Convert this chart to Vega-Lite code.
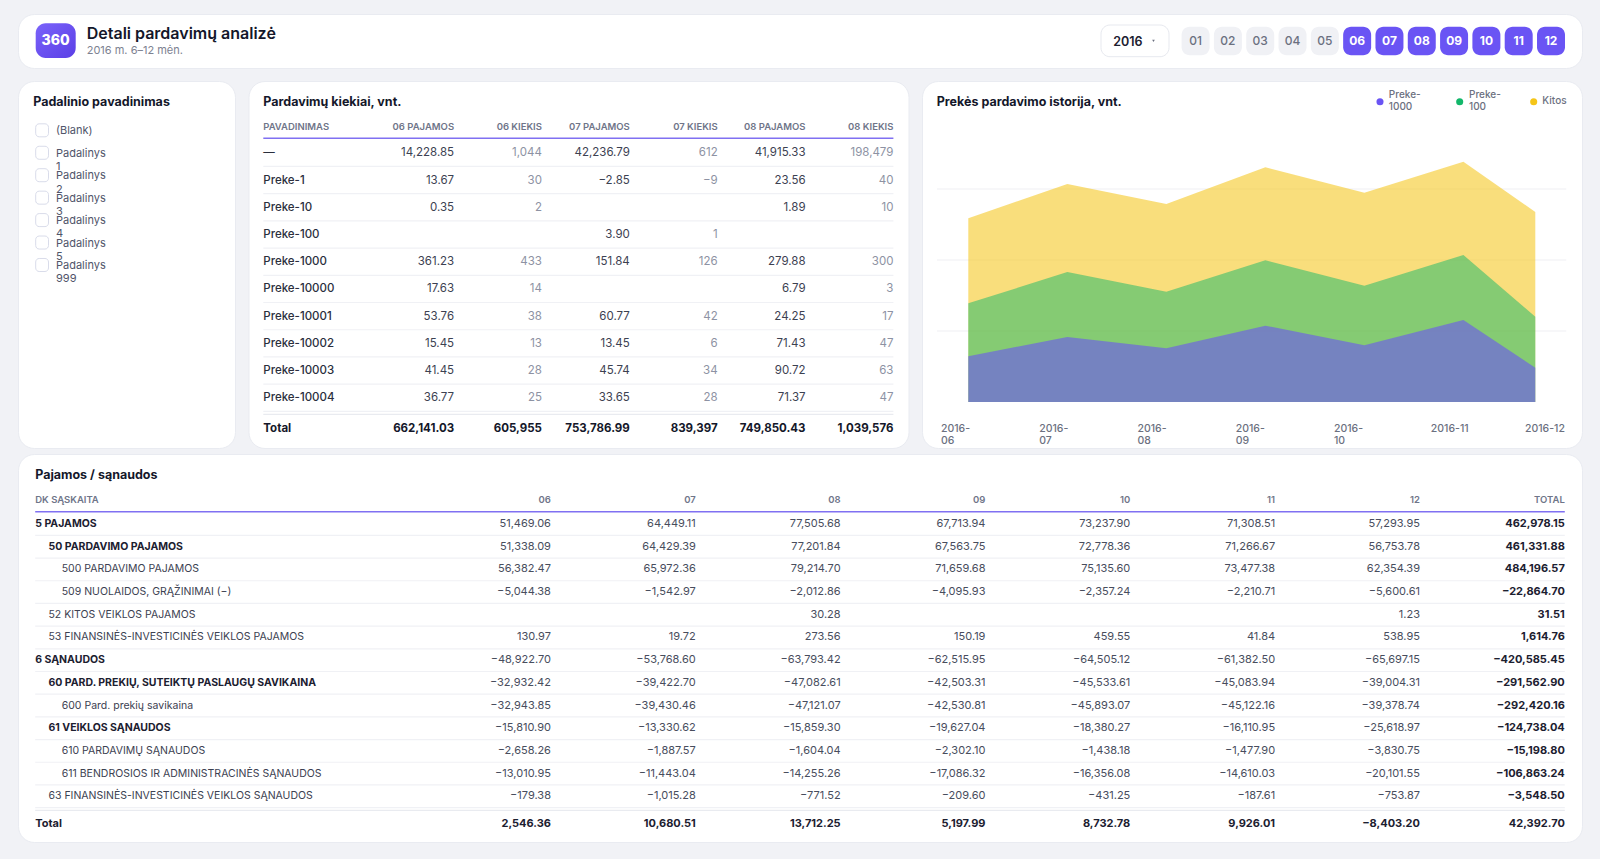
{
  "$schema": "https://vega.github.io/schema/vega-lite/v6.json",
  "description": "Detali pardavimu analize dashboard: filter list, sales table, area chart and income/expense table.",
  "background": "#f1f2f6",
  "padding": {"left": 17, "top": 13, "right": 17.5, "bottom": 18.5},
  "config": {
    "font": "Inter",
    "view": {"fill": "#ffffff", "stroke": "#e9ebf1", "strokeWidth": 1, "cornerRadius": 16}
  },
  "datasets": {
    "months": [
      {"month": "01", "active": false}, {"month": "02", "active": false}, {"month": "03", "active": false},
      {"month": "04", "active": false}, {"month": "05", "active": false}, {"month": "06", "active": true},
      {"month": "07", "active": true}, {"month": "08", "active": true}, {"month": "09", "active": true},
      {"month": "10", "active": true}, {"month": "11", "active": true}, {"month": "12", "active": true}
    ],
    "departments": [
      {"name": ["(Blank)"]}, {"name": ["Padalinys", "1"]}, {"name": ["Padalinys", "2"]}, {"name": ["Padalinys", "3"]},
      {"name": ["Padalinys", "4"]}, {"name": ["Padalinys", "5"]}, {"name": ["Padalinys", "999"]}
    ],
    "salesCols": [
      {"col": "06 PAJAMOS"}, {"col": "06 KIEKIS"}, {"col": "07 PAJAMOS"}, {"col": "07 KIEKIS"}, {"col": "08 PAJAMOS"}, {"col": "08 KIEKIS"}
    ],
    "salesRows": [
      {"row": "—"}, {"row": "Preke-1"}, {"row": "Preke-10"}, {"row": "Preke-100"}, {"row": "Preke-1000"},
      {"row": "Preke-10000"}, {"row": "Preke-10001"}, {"row": "Preke-10002"}, {"row": "Preke-10003"}, {"row": "Preke-10004"}
    ],
    "sales": [
      {"row": "—", "col": "06 PAJAMOS", "measure": "pajamos", "value": 14228.85},
      {"row": "—", "col": "06 KIEKIS", "measure": "kiekis", "value": 1044},
      {"row": "—", "col": "07 PAJAMOS", "measure": "pajamos", "value": 42236.79},
      {"row": "—", "col": "07 KIEKIS", "measure": "kiekis", "value": 612},
      {"row": "—", "col": "08 PAJAMOS", "measure": "pajamos", "value": 41915.33},
      {"row": "—", "col": "08 KIEKIS", "measure": "kiekis", "value": 198479},
      {"row": "Preke-1", "col": "06 PAJAMOS", "measure": "pajamos", "value": 13.67},
      {"row": "Preke-1", "col": "06 KIEKIS", "measure": "kiekis", "value": 30},
      {"row": "Preke-1", "col": "07 PAJAMOS", "measure": "pajamos", "value": -2.85},
      {"row": "Preke-1", "col": "07 KIEKIS", "measure": "kiekis", "value": -9},
      {"row": "Preke-1", "col": "08 PAJAMOS", "measure": "pajamos", "value": 23.56},
      {"row": "Preke-1", "col": "08 KIEKIS", "measure": "kiekis", "value": 40},
      {"row": "Preke-10", "col": "06 PAJAMOS", "measure": "pajamos", "value": 0.35},
      {"row": "Preke-10", "col": "06 KIEKIS", "measure": "kiekis", "value": 2},
      {"row": "Preke-10", "col": "08 PAJAMOS", "measure": "pajamos", "value": 1.89},
      {"row": "Preke-10", "col": "08 KIEKIS", "measure": "kiekis", "value": 10},
      {"row": "Preke-100", "col": "07 PAJAMOS", "measure": "pajamos", "value": 3.9},
      {"row": "Preke-100", "col": "07 KIEKIS", "measure": "kiekis", "value": 1},
      {"row": "Preke-1000", "col": "06 PAJAMOS", "measure": "pajamos", "value": 361.23},
      {"row": "Preke-1000", "col": "06 KIEKIS", "measure": "kiekis", "value": 433},
      {"row": "Preke-1000", "col": "07 PAJAMOS", "measure": "pajamos", "value": 151.84},
      {"row": "Preke-1000", "col": "07 KIEKIS", "measure": "kiekis", "value": 126},
      {"row": "Preke-1000", "col": "08 PAJAMOS", "measure": "pajamos", "value": 279.88},
      {"row": "Preke-1000", "col": "08 KIEKIS", "measure": "kiekis", "value": 300},
      {"row": "Preke-10000", "col": "06 PAJAMOS", "measure": "pajamos", "value": 17.63},
      {"row": "Preke-10000", "col": "06 KIEKIS", "measure": "kiekis", "value": 14},
      {"row": "Preke-10000", "col": "08 PAJAMOS", "measure": "pajamos", "value": 6.79},
      {"row": "Preke-10000", "col": "08 KIEKIS", "measure": "kiekis", "value": 3},
      {"row": "Preke-10001", "col": "06 PAJAMOS", "measure": "pajamos", "value": 53.76},
      {"row": "Preke-10001", "col": "06 KIEKIS", "measure": "kiekis", "value": 38},
      {"row": "Preke-10001", "col": "07 PAJAMOS", "measure": "pajamos", "value": 60.77},
      {"row": "Preke-10001", "col": "07 KIEKIS", "measure": "kiekis", "value": 42},
      {"row": "Preke-10001", "col": "08 PAJAMOS", "measure": "pajamos", "value": 24.25},
      {"row": "Preke-10001", "col": "08 KIEKIS", "measure": "kiekis", "value": 17},
      {"row": "Preke-10002", "col": "06 PAJAMOS", "measure": "pajamos", "value": 15.45},
      {"row": "Preke-10002", "col": "06 KIEKIS", "measure": "kiekis", "value": 13},
      {"row": "Preke-10002", "col": "07 PAJAMOS", "measure": "pajamos", "value": 13.45},
      {"row": "Preke-10002", "col": "07 KIEKIS", "measure": "kiekis", "value": 6},
      {"row": "Preke-10002", "col": "08 PAJAMOS", "measure": "pajamos", "value": 71.43},
      {"row": "Preke-10002", "col": "08 KIEKIS", "measure": "kiekis", "value": 47},
      {"row": "Preke-10003", "col": "06 PAJAMOS", "measure": "pajamos", "value": 41.45},
      {"row": "Preke-10003", "col": "06 KIEKIS", "measure": "kiekis", "value": 28},
      {"row": "Preke-10003", "col": "07 PAJAMOS", "measure": "pajamos", "value": 45.74},
      {"row": "Preke-10003", "col": "07 KIEKIS", "measure": "kiekis", "value": 34},
      {"row": "Preke-10003", "col": "08 PAJAMOS", "measure": "pajamos", "value": 90.72},
      {"row": "Preke-10003", "col": "08 KIEKIS", "measure": "kiekis", "value": 63},
      {"row": "Preke-10004", "col": "06 PAJAMOS", "measure": "pajamos", "value": 36.77},
      {"row": "Preke-10004", "col": "06 KIEKIS", "measure": "kiekis", "value": 25},
      {"row": "Preke-10004", "col": "07 PAJAMOS", "measure": "pajamos", "value": 33.65},
      {"row": "Preke-10004", "col": "07 KIEKIS", "measure": "kiekis", "value": 28},
      {"row": "Preke-10004", "col": "08 PAJAMOS", "measure": "pajamos", "value": 71.37},
      {"row": "Preke-10004", "col": "08 KIEKIS", "measure": "kiekis", "value": 47},
      {"row": "Total", "col": "06 PAJAMOS", "measure": "pajamos", "value": 662141.03},
      {"row": "Total", "col": "06 KIEKIS", "measure": "kiekis", "value": 605955},
      {"row": "Total", "col": "07 PAJAMOS", "measure": "pajamos", "value": 753786.99},
      {"row": "Total", "col": "07 KIEKIS", "measure": "kiekis", "value": 839397},
      {"row": "Total", "col": "08 PAJAMOS", "measure": "pajamos", "value": 749850.43},
      {"row": "Total", "col": "08 KIEKIS", "measure": "kiekis", "value": 1039576}
    ],
    "history": [
      {"month": 6, "label": ["2016-", "06"], "series": "Kitos", "units": 258.7},
      {"month": 7, "label": ["2016-", "07"], "series": "Kitos", "units": 307},
      {"month": 8, "label": ["2016-", "08"], "series": "Kitos", "units": 279},
      {"month": 9, "label": ["2016-", "09"], "series": "Kitos", "units": 330.6},
      {"month": 10, "label": ["2016-", "10"], "series": "Kitos", "units": 294.8},
      {"month": 11, "label": ["2016-11"], "series": "Kitos", "units": 338.5},
      {"month": 12, "label": ["2016-12"], "series": "Kitos", "units": 267.6},
      {"month": 6, "series": "Preke-100", "units": 139},
      {"month": 7, "series": "Preke-100", "units": 183},
      {"month": 8, "series": "Preke-100", "units": 155.4},
      {"month": 9, "series": "Preke-100", "units": 199.6},
      {"month": 10, "series": "Preke-100", "units": 163.8},
      {"month": 11, "series": "Preke-100", "units": 207},
      {"month": 12, "series": "Preke-100", "units": 120},
      {"month": 6, "series": "Preke-1000", "units": 64.4},
      {"month": 7, "series": "Preke-1000", "units": 91.5},
      {"month": 8, "series": "Preke-1000", "units": 75.6},
      {"month": 9, "series": "Preke-1000", "units": 107.5},
      {"month": 10, "series": "Preke-1000", "units": 79.9},
      {"month": 11, "series": "Preke-1000", "units": 115.5},
      {"month": 12, "series": "Preke-1000", "units": 48.3}
    ],
    "legendItems": [
      {"series": "Preke-1000", "order": 1, "lines": 2, "label": ["Preke-", "1000"]},
      {"series": "Preke-100", "order": 2, "lines": 2, "label": ["Preke-", "100"]},
      {"series": "Kitos", "order": 3, "lines": 1, "label": ["Kitos"]}
    ],
    "accounts": [
      {"account": "5 PAJAMOS", "level": 0, "strong": true},
      {"account": "50 PARDAVIMO PAJAMOS", "level": 1, "strong": true},
      {"account": "500 PARDAVIMO PAJAMOS", "level": 2, "strong": false},
      {"account": "509 NUOLAIDOS, GRĄŽINIMAI (−)", "level": 2, "strong": false},
      {"account": "52 KITOS VEIKLOS PAJAMOS", "level": 1, "strong": false},
      {"account": "53 FINANSINĖS-INVESTICINĖS VEIKLOS PAJAMOS", "level": 1, "strong": false},
      {"account": "6 SĄNAUDOS", "level": 0, "strong": true},
      {"account": "60 PARD. PREKIŲ, SUTEIKTŲ PASLAUGŲ SAVIKAINA", "level": 1, "strong": true},
      {"account": "600 Pard. prekių savikaina", "level": 2, "strong": false},
      {"account": "61 VEIKLOS SĄNAUDOS", "level": 1, "strong": true},
      {"account": "610 PARDAVIMŲ SĄNAUDOS", "level": 2, "strong": false},
      {"account": "611 BENDROSIOS IR ADMINISTRACINĖS SĄNAUDOS", "level": 2, "strong": false},
      {"account": "63 FINANSINĖS-INVESTICINĖS VEIKLOS SĄNAUDOS", "level": 1, "strong": false}
    ],
    "ledgerCols": [
      {"month": "06"}, {"month": "07"}, {"month": "08"}, {"month": "09"}, {"month": "10"}, {"month": "11"}, {"month": "12"}, {"month": "TOTAL"}
    ],
    "ledger": [
      {"account": "5 PAJAMOS", "month": "06", "value": 51469.06},
      {"account": "5 PAJAMOS", "month": "07", "value": 64449.11},
      {"account": "5 PAJAMOS", "month": "08", "value": 77505.68},
      {"account": "5 PAJAMOS", "month": "09", "value": 67713.94},
      {"account": "5 PAJAMOS", "month": "10", "value": 73237.9},
      {"account": "5 PAJAMOS", "month": "11", "value": 71308.51},
      {"account": "5 PAJAMOS", "month": "12", "value": 57293.95},
      {"account": "5 PAJAMOS", "month": "TOTAL", "value": 462978.15},
      {"account": "50 PARDAVIMO PAJAMOS", "month": "06", "value": 51338.09},
      {"account": "50 PARDAVIMO PAJAMOS", "month": "07", "value": 64429.39},
      {"account": "50 PARDAVIMO PAJAMOS", "month": "08", "value": 77201.84},
      {"account": "50 PARDAVIMO PAJAMOS", "month": "09", "value": 67563.75},
      {"account": "50 PARDAVIMO PAJAMOS", "month": "10", "value": 72778.36},
      {"account": "50 PARDAVIMO PAJAMOS", "month": "11", "value": 71266.67},
      {"account": "50 PARDAVIMO PAJAMOS", "month": "12", "value": 56753.78},
      {"account": "50 PARDAVIMO PAJAMOS", "month": "TOTAL", "value": 461331.88},
      {"account": "500 PARDAVIMO PAJAMOS", "month": "06", "value": 56382.47},
      {"account": "500 PARDAVIMO PAJAMOS", "month": "07", "value": 65972.36},
      {"account": "500 PARDAVIMO PAJAMOS", "month": "08", "value": 79214.7},
      {"account": "500 PARDAVIMO PAJAMOS", "month": "09", "value": 71659.68},
      {"account": "500 PARDAVIMO PAJAMOS", "month": "10", "value": 75135.6},
      {"account": "500 PARDAVIMO PAJAMOS", "month": "11", "value": 73477.38},
      {"account": "500 PARDAVIMO PAJAMOS", "month": "12", "value": 62354.39},
      {"account": "500 PARDAVIMO PAJAMOS", "month": "TOTAL", "value": 484196.57},
      {"account": "509 NUOLAIDOS, GRĄŽINIMAI (−)", "month": "06", "value": -5044.38},
      {"account": "509 NUOLAIDOS, GRĄŽINIMAI (−)", "month": "07", "value": -1542.97},
      {"account": "509 NUOLAIDOS, GRĄŽINIMAI (−)", "month": "08", "value": -2012.86},
      {"account": "509 NUOLAIDOS, GRĄŽINIMAI (−)", "month": "09", "value": -4095.93},
      {"account": "509 NUOLAIDOS, GRĄŽINIMAI (−)", "month": "10", "value": -2357.24},
      {"account": "509 NUOLAIDOS, GRĄŽINIMAI (−)", "month": "11", "value": -2210.71},
      {"account": "509 NUOLAIDOS, GRĄŽINIMAI (−)", "month": "12", "value": -5600.61},
      {"account": "509 NUOLAIDOS, GRĄŽINIMAI (−)", "month": "TOTAL", "value": -22864.7},
      {"account": "52 KITOS VEIKLOS PAJAMOS", "month": "08", "value": 30.28},
      {"account": "52 KITOS VEIKLOS PAJAMOS", "month": "12", "value": 1.23},
      {"account": "52 KITOS VEIKLOS PAJAMOS", "month": "TOTAL", "value": 31.51},
      {"account": "53 FINANSINĖS-INVESTICINĖS VEIKLOS PAJAMOS", "month": "06", "value": 130.97},
      {"account": "53 FINANSINĖS-INVESTICINĖS VEIKLOS PAJAMOS", "month": "07", "value": 19.72},
      {"account": "53 FINANSINĖS-INVESTICINĖS VEIKLOS PAJAMOS", "month": "08", "value": 273.56},
      {"account": "53 FINANSINĖS-INVESTICINĖS VEIKLOS PAJAMOS", "month": "09", "value": 150.19},
      {"account": "53 FINANSINĖS-INVESTICINĖS VEIKLOS PAJAMOS", "month": "10", "value": 459.55},
      {"account": "53 FINANSINĖS-INVESTICINĖS VEIKLOS PAJAMOS", "month": "11", "value": 41.84},
      {"account": "53 FINANSINĖS-INVESTICINĖS VEIKLOS PAJAMOS", "month": "12", "value": 538.95},
      {"account": "53 FINANSINĖS-INVESTICINĖS VEIKLOS PAJAMOS", "month": "TOTAL", "value": 1614.76},
      {"account": "6 SĄNAUDOS", "month": "06", "value": -48922.7},
      {"account": "6 SĄNAUDOS", "month": "07", "value": -53768.6},
      {"account": "6 SĄNAUDOS", "month": "08", "value": -63793.42},
      {"account": "6 SĄNAUDOS", "month": "09", "value": -62515.95},
      {"account": "6 SĄNAUDOS", "month": "10", "value": -64505.12},
      {"account": "6 SĄNAUDOS", "month": "11", "value": -61382.5},
      {"account": "6 SĄNAUDOS", "month": "12", "value": -65697.15},
      {"account": "6 SĄNAUDOS", "month": "TOTAL", "value": -420585.45},
      {"account": "60 PARD. PREKIŲ, SUTEIKTŲ PASLAUGŲ SAVIKAINA", "month": "06", "value": -32932.42},
      {"account": "60 PARD. PREKIŲ, SUTEIKTŲ PASLAUGŲ SAVIKAINA", "month": "07", "value": -39422.7},
      {"account": "60 PARD. PREKIŲ, SUTEIKTŲ PASLAUGŲ SAVIKAINA", "month": "08", "value": -47082.61},
      {"account": "60 PARD. PREKIŲ, SUTEIKTŲ PASLAUGŲ SAVIKAINA", "month": "09", "value": -42503.31},
      {"account": "60 PARD. PREKIŲ, SUTEIKTŲ PASLAUGŲ SAVIKAINA", "month": "10", "value": -45533.61},
      {"account": "60 PARD. PREKIŲ, SUTEIKTŲ PASLAUGŲ SAVIKAINA", "month": "11", "value": -45083.94},
      {"account": "60 PARD. PREKIŲ, SUTEIKTŲ PASLAUGŲ SAVIKAINA", "month": "12", "value": -39004.31},
      {"account": "60 PARD. PREKIŲ, SUTEIKTŲ PASLAUGŲ SAVIKAINA", "month": "TOTAL", "value": -291562.9},
      {"account": "600 Pard. prekių savikaina", "month": "06", "value": -32943.85},
      {"account": "600 Pard. prekių savikaina", "month": "07", "value": -39430.46},
      {"account": "600 Pard. prekių savikaina", "month": "08", "value": -47121.07},
      {"account": "600 Pard. prekių savikaina", "month": "09", "value": -42530.81},
      {"account": "600 Pard. prekių savikaina", "month": "10", "value": -45893.07},
      {"account": "600 Pard. prekių savikaina", "month": "11", "value": -45122.16},
      {"account": "600 Pard. prekių savikaina", "month": "12", "value": -39378.74},
      {"account": "600 Pard. prekių savikaina", "month": "TOTAL", "value": -292420.16},
      {"account": "61 VEIKLOS SĄNAUDOS", "month": "06", "value": -15810.9},
      {"account": "61 VEIKLOS SĄNAUDOS", "month": "07", "value": -13330.62},
      {"account": "61 VEIKLOS SĄNAUDOS", "month": "08", "value": -15859.3},
      {"account": "61 VEIKLOS SĄNAUDOS", "month": "09", "value": -19627.04},
      {"account": "61 VEIKLOS SĄNAUDOS", "month": "10", "value": -18380.27},
      {"account": "61 VEIKLOS SĄNAUDOS", "month": "11", "value": -16110.95},
      {"account": "61 VEIKLOS SĄNAUDOS", "month": "12", "value": -25618.97},
      {"account": "61 VEIKLOS SĄNAUDOS", "month": "TOTAL", "value": -124738.04},
      {"account": "610 PARDAVIMŲ SĄNAUDOS", "month": "06", "value": -2658.26},
      {"account": "610 PARDAVIMŲ SĄNAUDOS", "month": "07", "value": -1887.57},
      {"account": "610 PARDAVIMŲ SĄNAUDOS", "month": "08", "value": -1604.04},
      {"account": "610 PARDAVIMŲ SĄNAUDOS", "month": "09", "value": -2302.1},
      {"account": "610 PARDAVIMŲ SĄNAUDOS", "month": "10", "value": -1438.18},
      {"account": "610 PARDAVIMŲ SĄNAUDOS", "month": "11", "value": -1477.9},
      {"account": "610 PARDAVIMŲ SĄNAUDOS", "month": "12", "value": -3830.75},
      {"account": "610 PARDAVIMŲ SĄNAUDOS", "month": "TOTAL", "value": -15198.8},
      {"account": "611 BENDROSIOS IR ADMINISTRACINĖS SĄNAUDOS", "month": "06", "value": -13010.95},
      {"account": "611 BENDROSIOS IR ADMINISTRACINĖS SĄNAUDOS", "month": "07", "value": -11443.04},
      {"account": "611 BENDROSIOS IR ADMINISTRACINĖS SĄNAUDOS", "month": "08", "value": -14255.26},
      {"account": "611 BENDROSIOS IR ADMINISTRACINĖS SĄNAUDOS", "month": "09", "value": -17086.32},
      {"account": "611 BENDROSIOS IR ADMINISTRACINĖS SĄNAUDOS", "month": "10", "value": -16356.08},
      {"account": "611 BENDROSIOS IR ADMINISTRACINĖS SĄNAUDOS", "month": "11", "value": -14610.03},
      {"account": "611 BENDROSIOS IR ADMINISTRACINĖS SĄNAUDOS", "month": "12", "value": -20101.55},
      {"account": "611 BENDROSIOS IR ADMINISTRACINĖS SĄNAUDOS", "month": "TOTAL", "value": -106863.24},
      {"account": "63 FINANSINĖS-INVESTICINĖS VEIKLOS SĄNAUDOS", "month": "06", "value": -179.38},
      {"account": "63 FINANSINĖS-INVESTICINĖS VEIKLOS SĄNAUDOS", "month": "07", "value": -1015.28},
      {"account": "63 FINANSINĖS-INVESTICINĖS VEIKLOS SĄNAUDOS", "month": "08", "value": -771.52},
      {"account": "63 FINANSINĖS-INVESTICINĖS VEIKLOS SĄNAUDOS", "month": "09", "value": -209.6},
      {"account": "63 FINANSINĖS-INVESTICINĖS VEIKLOS SĄNAUDOS", "month": "10", "value": -431.25},
      {"account": "63 FINANSINĖS-INVESTICINĖS VEIKLOS SĄNAUDOS", "month": "11", "value": -187.61},
      {"account": "63 FINANSINĖS-INVESTICINĖS VEIKLOS SĄNAUDOS", "month": "12", "value": -753.87},
      {"account": "63 FINANSINĖS-INVESTICINĖS VEIKLOS SĄNAUDOS", "month": "TOTAL", "value": -3548.5},
      {"account": "Total", "month": "06", "value": 2546.36},
      {"account": "Total", "month": "07", "value": 10680.51},
      {"account": "Total", "month": "08", "value": 13712.25},
      {"account": "Total", "month": "09", "value": 5197.99},
      {"account": "Total", "month": "10", "value": 8732.78},
      {"account": "Total", "month": "11", "value": 9926.01},
      {"account": "Total", "month": "12", "value": -8403.2},
      {"account": "Total", "month": "TOTAL", "value": 42392.7}
    ]
  },
  "spacing": 4,
  "resolve": {"scale": {"color": "independent"}},
  "vconcat": [
    {
      "spacing": 11,
      "resolve": {"scale": {"color": "independent"}},
      "vconcat": [
        {
          "width": 1564,
          "height": 54,
          "resolve": {"scale": {"x": "independent", "y": "independent"}},
          "layer": [
            {
              "data": {"values": [{"logo": "360"}]},
              "mark": {"type": "rect", "cornerRadius": 10, "color": {"gradient": "linear", "x1": 0, "y1": 0, "x2": 1, "y2": 1, "stops": [{"offset": 0, "color": "#7a63fa"}, {"offset": 1, "color": "#5b3fe6"}]}},
              "encoding": {
                "x": {"field": "logo", "type": "nominal", "axis": null, "scale": {"type": "band", "padding": 0, "range": [17.7, 57.7]}},
                "y": {"field": "logo", "type": "nominal", "axis": null, "scale": {"type": "band", "padding": 0, "range": [9.3, 44]}}
              }
            },
            {
              "data": {"values": [{"logo": "360"}]},
              "mark": {"type": "text", "fontSize": 14, "fontWeight": 800, "color": "#ffffff"},
              "encoding": {
                "text": {"field": "logo"},
                "x": {"field": "logo", "type": "nominal", "axis": null, "scale": {"type": "band", "padding": 0, "range": [17.7, 57.7]}},
                "y": {"field": "logo", "type": "nominal", "axis": null, "scale": {"type": "band", "padding": 0, "range": [9.3, 44]}}
              }
            },
            {
              "data": {"values": [{"title": "Detali pardavimų analizė"}]},
              "mark": {"type": "text", "fontSize": 16, "fontWeight": 600, "color": "#14172a", "align": "left"},
              "encoding": {
                "text": {"field": "title"},
                "x": {"field": "title", "type": "nominal", "bandPosition": 0, "axis": null, "scale": {"type": "band", "padding": 0, "range": [68.7, 400]}},
                "y": {"field": "title", "type": "nominal", "axis": null, "scale": {"type": "band", "padding": 0, "range": [10.3, 30.3]}}
              }
            },
            {
              "data": {"values": [{"subtitle": "2016 m. 6–12 mėn."}]},
              "mark": {"type": "text", "fontSize": 11, "color": "#7d8291", "align": "left"},
              "encoding": {
                "text": {"field": "subtitle"},
                "x": {"field": "subtitle", "type": "nominal", "bandPosition": 0, "axis": null, "scale": {"type": "band", "padding": 0, "range": [68.7, 400]}},
                "y": {"field": "subtitle", "type": "nominal", "axis": null, "scale": {"type": "band", "padding": 0, "range": [30, 43.4]}}
              }
            },
            {
              "data": {"values": [{"year": "2016"}]},
              "mark": {"type": "rect", "cornerRadius": 9, "fill": "#ffffff", "stroke": "#e7e9ef", "strokeWidth": 1},
              "encoding": {
                "x": {"field": "year", "type": "nominal", "axis": null, "scale": {"type": "band", "padding": 0, "range": [1083, 1151]}},
                "y": {"field": "year", "type": "nominal", "axis": null, "scale": {"type": "band", "padding": 0, "range": [11, 42.7]}}
              }
            },
            {
              "data": {"values": [{"year": "2016"}]},
              "mark": {"type": "text", "fontSize": 12.5, "fontWeight": 600, "color": "#1c2030", "align": "left"},
              "encoding": {
                "text": {"field": "year"},
                "x": {"field": "year", "type": "nominal", "bandPosition": 0, "axis": null, "scale": {"type": "band", "padding": 0, "range": [1095.3, 1151]}},
                "y": {"field": "year", "type": "nominal", "axis": null, "scale": {"type": "band", "padding": 0, "range": [12, 43.7]}}
              }
            },
            {
              "data": {"values": [{"year": "2016"}]},
              "mark": {"type": "point", "shape": "triangle-down", "size": 7, "filled": true, "color": "#6b7080", "opacity": 1},
              "encoding": {
                "x": {"field": "year", "type": "nominal", "axis": null, "scale": {"type": "band", "padding": 0, "range": [1130, 1141]}},
                "y": {"field": "year", "type": "nominal", "axis": null, "scale": {"type": "band", "padding": 0, "range": [11, 42.7]}}
              }
            },
            {
              "data": {"name": "months"},
              "mark": {"type": "rect", "cornerRadius": 8},
              "encoding": {
                "x": {"field": "month", "type": "nominal", "axis": null, "scale": {"type": "band", "paddingInner": 0.134, "paddingOuter": 0, "range": [1163.6, 1547]}},
                "y": {"datum": "btn", "type": "nominal", "axis": null, "scale": {"type": "band", "padding": 0, "range": [12.7, 41.3]}},
                "color": {"field": "active", "type": "nominal", "legend": null, "scale": {"domain": [false, true], "range": ["#f0f1f5", "#6a54f4"]}}
              }
            },
            {
              "data": {"name": "months"},
              "transform": [{"filter": "!datum.active"}],
              "mark": {"type": "text", "fontSize": 12, "fontWeight": 500, "color": "#6b7080"},
              "encoding": {
                "text": {"field": "month"},
                "x": {"field": "month", "type": "nominal", "axis": null, "scale": {"type": "band", "paddingInner": 0.134, "paddingOuter": 0, "domain": ["01", "02", "03", "04", "05", "06", "07", "08", "09", "10", "11", "12"], "range": [1163.6, 1547]}},
                "y": {"datum": "btn", "type": "nominal", "axis": null, "scale": {"type": "band", "padding": 0, "range": [12.7, 41.3]}}
              }
            },
            {
              "data": {"name": "months"},
              "transform": [{"filter": "datum.active"}],
              "mark": {"type": "text", "fontSize": 12, "fontWeight": 700, "color": "#ffffff"},
              "encoding": {
                "text": {"field": "month"},
                "x": {"field": "month", "type": "nominal", "axis": null, "scale": {"type": "band", "paddingInner": 0.134, "paddingOuter": 0, "domain": ["01", "02", "03", "04", "05", "06", "07", "08", "09", "10", "11", "12"], "range": [1163.6, 1547]}},
                "y": {"datum": "btn", "type": "nominal", "axis": null, "scale": {"type": "band", "padding": 0, "range": [12.7, 41.3]}}
              }
            }
          ]
        },
        {
          "spacing": 11.5,
          "resolve": {"scale": {"color": "independent"}},
          "hconcat": [
            {
              "width": 217,
              "height": 367,
              "resolve": {"scale": {"x": "independent", "y": "independent"}},
              "layer": [
                {
                  "data": {"values": [{"title": "Padalinio pavadinimas"}]},
                  "mark": {"type": "text", "fontSize": 12.5, "fontWeight": 700, "color": "#14172a", "align": "left"},
                  "encoding": {
                    "text": {"field": "title"},
                    "x": {"field": "title", "type": "nominal", "bandPosition": 0, "axis": null, "scale": {"type": "band", "padding": 0, "range": [15.2, 215]}},
                    "y": {"field": "title", "type": "nominal", "axis": null, "scale": {"type": "band", "padding": 0, "range": [11, 31.6]}}
                  }
                },
                {
                  "data": {"name": "departments"},
                  "mark": {"type": "rect", "cornerRadius": 3.5, "fill": "#ffffff", "stroke": "#d9dcea", "strokeWidth": 1},
                  "encoding": {
                    "x": {"datum": "box", "type": "nominal", "axis": null, "scale": {"type": "band", "padding": 0, "range": [17.7, 30.5]}},
                    "y": {"field": "name", "type": "nominal", "sort": null, "axis": null, "scale": {"type": "band", "paddingInner": 0.42, "paddingOuter": 0.21, "range": [38.1, 195.2]}}
                  }
                },
                {
                  "data": {"name": "departments"},
                  "mark": {"type": "text", "fontSize": 11, "color": "#50556a", "align": "left", "baseline": "top", "lineHeight": 13.4, "dy": -5},
                  "encoding": {
                    "text": {"field": "name"},
                    "x": {"datum": "label", "type": "nominal", "bandPosition": 0, "axis": null, "scale": {"type": "band", "padding": 0, "range": [38, 215]}},
                    "y": {"field": "name", "type": "nominal", "sort": null, "axis": null, "scale": {"type": "band", "padding": 0, "range": [38.1, 195.2]}}
                  }
                }
              ]
            },
            {
              "width": 660,
              "height": 367,
              "resolve": {"scale": {"x": "independent", "y": "independent"}},
              "layer": [
                {
                  "data": {"values": [{"title": "Pardavimų kiekiai, vnt."}]},
                  "mark": {"type": "text", "fontSize": 12.5, "fontWeight": 700, "color": "#14172a", "align": "left"},
                  "encoding": {
                    "text": {"field": "title"},
                    "x": {"field": "title", "type": "nominal", "bandPosition": 0, "axis": null, "scale": {"type": "band", "padding": 0, "range": [14.8, 400]}},
                    "y": {"field": "title", "type": "nominal", "axis": null, "scale": {"type": "band", "padding": 0, "range": [11, 31.6]}}
                  }
                },
                {
                  "data": {"values": [{"head": "PAVADINIMAS"}]},
                  "mark": {"type": "text", "fontSize": 9.5, "fontWeight": 600, "color": "#6f7589", "align": "left"},
                  "encoding": {
                    "text": {"field": "head"},
                    "x": {"field": "head", "type": "nominal", "bandPosition": 0, "axis": null, "scale": {"type": "band", "padding": 0, "range": [14.8, 117.7]}},
                    "y": {"field": "head", "type": "nominal", "axis": null, "scale": {"type": "band", "padding": 0, "range": [34.7, 57.3]}}
                  }
                },
                {
                  "data": {"name": "salesCols"},
                  "mark": {"type": "text", "fontSize": 9.5, "fontWeight": 600, "color": "#6f7589", "align": "right"},
                  "encoding": {
                    "text": {"field": "col"},
                    "x": {"field": "col", "type": "nominal", "sort": null, "bandPosition": 1, "axis": null, "scale": {"type": "band", "padding": 0, "range": [117.7, 644.9]}},
                    "y": {"datum": "head", "type": "nominal", "axis": null, "scale": {"type": "band", "padding": 0, "range": [34.7, 57.3]}}
                  }
                },
                {
                  "data": {"values": [{"head": "PAVADINIMAS"}]},
                  "mark": {"type": "rule", "color": "#8070f2", "strokeWidth": 1.4},
                  "encoding": {
                    "x": {"datum": 0, "type": "quantitative", "axis": null, "scale": {"domain": [0, 1], "range": [14.8, 644.9]}},
                    "x2": {"datum": 1},
                    "y": {"field": "head", "type": "nominal", "bandPosition": 1, "axis": null, "scale": {"type": "band", "padding": 0, "range": [34.7, 57.3]}}
                  }
                },
                {
                  "data": {"name": "salesRows"},
                  "mark": {"type": "rule", "color": "#f0f1f5", "strokeWidth": 1.2},
                  "encoding": {
                    "x": {"datum": 0, "type": "quantitative", "axis": null, "scale": {"domain": [0, 1], "range": [14.8, 644.9]}},
                    "x2": {"datum": 1},
                    "y": {"field": "row", "type": "nominal", "sort": null, "bandPosition": 1, "axis": null, "scale": {"type": "band", "padding": 0, "range": [58.2, 330.4]}}
                  }
                },
                {
                  "data": {"values": [{"row": "Total"}]},
                  "mark": {"type": "rule", "color": "#e9ebf0", "strokeWidth": 1.2},
                  "encoding": {
                    "x": {"datum": 0, "type": "quantitative", "axis": null, "scale": {"domain": [0, 1], "range": [14.8, 644.9]}},
                    "x2": {"datum": 1},
                    "y": {"field": "row", "type": "nominal", "bandPosition": 0, "axis": null, "scale": {"type": "band", "padding": 0, "range": [333.3, 362.7]}}
                  }
                },
                {
                  "data": {"name": "salesRows"},
                  "mark": {"type": "text", "fontSize": 11.5, "fontWeight": 500, "color": "#2a2e3d", "align": "left"},
                  "encoding": {
                    "text": {"field": "row"},
                    "x": {"datum": "name", "type": "nominal", "bandPosition": 0, "axis": null, "scale": {"type": "band", "padding": 0, "range": [14.8, 117.7]}},
                    "y": {"field": "row", "type": "nominal", "sort": null, "axis": null, "scale": {"type": "band", "padding": 0, "range": [58.7, 330.9]}}
                  }
                },
                {
                  "data": {"name": "sales"},
                  "transform": [{"filter": "datum.row !== 'Total' && datum.measure === 'pajamos'"}],
                  "mark": {"type": "text", "fontSize": 11.5, "color": "#3c4151", "align": "right"},
                  "encoding": {
                    "text": {"field": "value", "type": "quantitative", "format": ",.2f"},
                    "x": {"field": "col", "type": "nominal", "bandPosition": 1, "axis": null, "scale": {"type": "band", "padding": 0, "domain": ["06 PAJAMOS", "06 KIEKIS", "07 PAJAMOS", "07 KIEKIS", "08 PAJAMOS", "08 KIEKIS"], "range": [117.7, 644.9]}},
                    "y": {"field": "row", "type": "nominal", "sort": null, "axis": null, "scale": {"type": "band", "padding": 0, "range": [58.7, 330.9]}}
                  }
                },
                {
                  "data": {"name": "sales"},
                  "transform": [{"filter": "datum.row !== 'Total' && datum.measure === 'kiekis'"}],
                  "mark": {"type": "text", "fontSize": 11.5, "color": "#8d92a3", "align": "right"},
                  "encoding": {
                    "text": {"field": "value", "type": "quantitative", "format": ",d"},
                    "x": {"field": "col", "type": "nominal", "bandPosition": 1, "axis": null, "scale": {"type": "band", "padding": 0, "domain": ["06 PAJAMOS", "06 KIEKIS", "07 PAJAMOS", "07 KIEKIS", "08 PAJAMOS", "08 KIEKIS"], "range": [117.7, 644.9]}},
                    "y": {"field": "row", "type": "nominal", "sort": null, "axis": null, "scale": {"type": "band", "padding": 0, "range": [58.7, 330.9]}}
                  }
                },
                {
                  "data": {"values": [{"row": "Total"}]},
                  "mark": {"type": "text", "fontSize": 11.5, "fontWeight": 700, "color": "#14172a", "align": "left"},
                  "encoding": {
                    "text": {"field": "row"},
                    "x": {"datum": "name", "type": "nominal", "bandPosition": 0, "axis": null, "scale": {"type": "band", "padding": 0, "range": [14.8, 117.7]}},
                    "y": {"field": "row", "type": "nominal", "axis": null, "scale": {"type": "band", "padding": 0, "range": [333.3, 362.7]}}
                  }
                },
                {
                  "data": {"name": "sales"},
                  "transform": [{"filter": "datum.row === 'Total' && datum.measure === 'pajamos'"}],
                  "mark": {"type": "text", "fontSize": 11.5, "fontWeight": 700, "color": "#14172a", "align": "right"},
                  "encoding": {
                    "text": {"field": "value", "type": "quantitative", "format": ",.2f"},
                    "x": {"field": "col", "type": "nominal", "bandPosition": 1, "axis": null, "scale": {"type": "band", "padding": 0, "domain": ["06 PAJAMOS", "06 KIEKIS", "07 PAJAMOS", "07 KIEKIS", "08 PAJAMOS", "08 KIEKIS"], "range": [117.7, 644.9]}},
                    "y": {"field": "row", "type": "nominal", "axis": null, "scale": {"type": "band", "padding": 0, "range": [333.3, 362.7]}}
                  }
                },
                {
                  "data": {"name": "sales"},
                  "transform": [{"filter": "datum.row === 'Total' && datum.measure === 'kiekis'"}],
                  "mark": {"type": "text", "fontSize": 11.5, "fontWeight": 700, "color": "#14172a", "align": "right"},
                  "encoding": {
                    "text": {"field": "value", "type": "quantitative", "format": ",d"},
                    "x": {"field": "col", "type": "nominal", "bandPosition": 1, "axis": null, "scale": {"type": "band", "padding": 0, "domain": ["06 PAJAMOS", "06 KIEKIS", "07 PAJAMOS", "07 KIEKIS", "08 PAJAMOS", "08 KIEKIS"], "range": [117.7, 644.9]}},
                    "y": {"field": "row", "type": "nominal", "axis": null, "scale": {"type": "band", "padding": 0, "range": [333.3, 362.7]}}
                  }
                }
              ]
            },
            {
              "width": 660,
              "height": 367,
              "resolve": {"scale": {"x": "independent", "y": "independent"}},
              "layer": [
                {
                  "data": {"values": [{"title": "Prekės pardavimo istorija, vnt."}]},
                  "mark": {"type": "text", "fontSize": 12.5, "fontWeight": 700, "color": "#14172a", "align": "left"},
                  "encoding": {
                    "text": {"field": "title"},
                    "x": {"field": "title", "type": "nominal", "bandPosition": 0, "axis": null, "scale": {"type": "band", "padding": 0, "range": [14.7, 400]}},
                    "y": {"field": "title", "type": "nominal", "axis": null, "scale": {"type": "band", "padding": 0, "range": [11, 31.6]}}
                  }
                },
                {
                  "data": {"values": [{"tick": 100}, {"tick": 200}, {"tick": 300}]},
                  "mark": {"type": "rule", "color": "#eff0f4", "strokeWidth": 1.2},
                  "encoding": {
                    "x": {"datum": 0, "type": "quantitative", "axis": null, "scale": {"domain": [0, 1], "range": [15, 644.3]}},
                    "x2": {"datum": 1},
                    "y": {"field": "tick", "type": "quantitative", "axis": null, "scale": {"domain": [0, 400], "range": [321, 37]}}
                  }
                },
                {
                  "data": {"name": "history"},
                  "transform": [{"filter": "datum.series === 'Kitos'"}],
                  "mark": {"type": "area", "opacity": 0.57, "color": "#f5c518"},
                  "encoding": {
                    "x": {"field": "month", "type": "quantitative", "axis": null, "scale": {"domain": [6, 11, 12], "range": [46.3, 541.4, 613.3]}},
                    "y": {"field": "units", "type": "quantitative", "stack": null, "axis": null, "scale": {"domain": [0, 400], "range": [321, 37]}}
                  }
                },
                {
                  "data": {"name": "history"},
                  "transform": [{"filter": "datum.series === 'Preke-100'"}],
                  "mark": {"type": "area", "opacity": 0.5, "color": "#12b76a"},
                  "encoding": {
                    "x": {"field": "month", "type": "quantitative", "axis": null, "scale": {"domain": [6, 11, 12], "range": [46.3, 541.4, 613.3]}},
                    "y": {"field": "units", "type": "quantitative", "stack": null, "axis": null, "scale": {"domain": [0, 400], "range": [321, 37]}}
                  }
                },
                {
                  "data": {"name": "history"},
                  "transform": [{"filter": "datum.series === 'Preke-1000'"}],
                  "mark": {"type": "area", "opacity": 0.6, "color": "#6a54f4"},
                  "encoding": {
                    "x": {"field": "month", "type": "quantitative", "axis": null, "scale": {"domain": [6, 11, 12], "range": [46.3, 541.4, 613.3]}},
                    "y": {"field": "units", "type": "quantitative", "stack": null, "axis": null, "scale": {"domain": [0, 400], "range": [321, 37]}}
                  }
                },
                {
                  "data": {"name": "history"},
                  "transform": [{"filter": "datum.series === 'Kitos'"}],
                  "mark": {"type": "text", "fontSize": 10.5, "fontWeight": 500, "color": "#6b7080", "align": "left", "baseline": "top", "lineHeight": 12.3},
                  "encoding": {
                    "text": {"field": "label"},
                    "x": {"field": "month", "type": "quantitative", "axis": null, "scale": {"domain": [6, 10, 11, 12], "range": [19, 412, 508.8, 603]}},
                    "y": {"datum": "labels", "type": "nominal", "bandPosition": 0, "axis": null, "scale": {"type": "band", "padding": 0, "range": [342.5, 366.5]}}
                  }
                },
                {
                  "data": {"name": "legendItems"},
                  "mark": {"type": "circle", "size": 50, "opacity": 1},
                  "encoding": {
                    "x": {"field": "order", "type": "quantitative", "axis": null, "scale": {"domain": [1, 2, 3], "range": [458, 537.7, 611.7]}},
                    "y": {"datum": "legend", "type": "nominal", "axis": null, "scale": {"type": "band", "padding": 0, "range": [10.7, 30.7]}},
                    "color": {"field": "series", "type": "nominal", "legend": null, "scale": {"domain": ["Preke-1000", "Preke-100", "Kitos"], "range": ["#6a54f4", "#12b76a", "#f5c518"]}}
                  }
                },
                {
                  "data": {"name": "legendItems"},
                  "mark": {"type": "text", "fontSize": 10, "fontWeight": 500, "color": "#6b7080", "align": "left", "baseline": "middle", "lineHeight": 12},
                  "encoding": {
                    "text": {"field": "label"},
                    "x": {"field": "order", "type": "quantitative", "axis": null, "scale": {"domain": [1, 2, 3], "range": [466.8, 547, 620.3]}},
                    "y": {"field": "lines", "type": "ordinal", "axis": null, "scale": {"type": "band", "padding": 0, "domain": [2, 1], "range": [11.2, 23.2]}}
                  }
                }
              ]
            }
          ]
        }
      ]
    },
    {
      "width": 1564,
      "height": 388,
      "resolve": {"scale": {"x": "independent", "y": "independent"}},
      "layer": [
        {
          "data": {"values": [{"title": "Pajamos / sąnaudos"}]},
          "mark": {"type": "text", "fontSize": 12.5, "fontWeight": 700, "color": "#14172a", "align": "left"},
          "encoding": {
            "text": {"field": "title"},
            "x": {"field": "title", "type": "nominal", "bandPosition": 0, "axis": null, "scale": {"type": "band", "padding": 0, "range": [17.2, 400]}},
            "y": {"field": "title", "type": "nominal", "axis": null, "scale": {"type": "band", "padding": 0, "range": [11.2, 31.2]}}
          }
        },
        {
          "data": {"values": [{"head": "DK SĄSKAITA"}]},
          "mark": {"type": "text", "fontSize": 9.5, "fontWeight": 600, "color": "#6f7589", "align": "left"},
          "encoding": {
            "text": {"field": "head"},
            "x": {"field": "head", "type": "nominal", "bandPosition": 0, "axis": null, "scale": {"type": "band", "padding": 0, "range": [17.2, 388]}},
            "y": {"field": "head", "type": "nominal", "axis": null, "scale": {"type": "band", "padding": 0, "range": [35, 57.7]}}
          }
        },
        {
          "data": {"name": "ledgerCols"},
          "mark": {"type": "text", "fontSize": 9.5, "fontWeight": 600, "color": "#6f7589", "align": "right"},
          "encoding": {
            "text": {"field": "month"},
            "x": {"field": "month", "type": "nominal", "sort": null, "bandPosition": 1, "axis": null, "scale": {"type": "band", "padding": 0, "range": [388.1, 1546.8]}},
            "y": {"datum": "head", "type": "nominal", "axis": null, "scale": {"type": "band", "padding": 0, "range": [35, 57.7]}}
          }
        },
        {
          "data": {"values": [{"head": "DK SĄSKAITA"}]},
          "mark": {"type": "rule", "color": "#8070f2", "strokeWidth": 1.4},
          "encoding": {
            "x": {"datum": 0, "type": "quantitative", "axis": null, "scale": {"domain": [0, 1], "range": [17.2, 1546.8]}},
            "x2": {"datum": 1},
            "y": {"field": "head", "type": "nominal", "bandPosition": 1, "axis": null, "scale": {"type": "band", "padding": 0, "range": [35, 57.7]}}
          }
        },
        {
          "data": {"name": "accounts"},
          "mark": {"type": "rule", "color": "#f0f1f5", "strokeWidth": 1.2},
          "encoding": {
            "x": {"datum": 0, "type": "quantitative", "axis": null, "scale": {"domain": [0, 1], "range": [17.2, 1546.8]}},
            "x2": {"datum": 1},
            "y": {"field": "account", "type": "nominal", "sort": null, "bandPosition": 1, "axis": null, "scale": {"type": "band", "padding": 0, "range": [58.65, 353.65]}}
          }
        },
        {
          "data": {"values": [{"account": "Total"}]},
          "mark": {"type": "rule", "color": "#e9ebf0", "strokeWidth": 1.2},
          "encoding": {
            "x": {"datum": 0, "type": "quantitative", "axis": null, "scale": {"domain": [0, 1], "range": [17.2, 1546.8]}},
            "x2": {"datum": 1},
            "y": {"field": "account", "type": "nominal", "bandPosition": 0, "axis": null, "scale": {"type": "band", "padding": 0, "range": [356.3, 383]}}
          }
        },
        {
          "data": {"name": "accounts"},
          "transform": [{"filter": "datum.strong"}],
          "mark": {"type": "text", "fontSize": 10.5, "fontWeight": 700, "color": "#1c2030", "align": "left"},
          "encoding": {
            "text": {"field": "account"},
            "x": {"field": "level", "type": "ordinal", "bandPosition": 0, "axis": null, "scale": {"type": "band", "padding": 0, "domain": [0, 1, 2], "range": [17.2, 57]}},
            "y": {"field": "account", "type": "nominal", "axis": null, "scale": {"type": "band", "padding": 0, "domain": ["5 PAJAMOS", "50 PARDAVIMO PAJAMOS", "500 PARDAVIMO PAJAMOS", "509 NUOLAIDOS, GRĄŽINIMAI (−)", "52 KITOS VEIKLOS PAJAMOS", "53 FINANSINĖS-INVESTICINĖS VEIKLOS PAJAMOS", "6 SĄNAUDOS", "60 PARD. PREKIŲ, SUTEIKTŲ PASLAUGŲ SAVIKAINA", "600 Pard. prekių savikaina", "61 VEIKLOS SĄNAUDOS", "610 PARDAVIMŲ SĄNAUDOS", "611 BENDROSIOS IR ADMINISTRACINĖS SĄNAUDOS", "63 FINANSINĖS-INVESTICINĖS VEIKLOS SĄNAUDOS"], "range": [58.65, 353.65]}}
          }
        },
        {
          "data": {"name": "accounts"},
          "transform": [{"filter": "!datum.strong"}],
          "mark": {"type": "text", "fontSize": 10.5, "fontWeight": 400, "color": "#3c4151", "align": "left"},
          "encoding": {
            "text": {"field": "account"},
            "x": {"field": "level", "type": "ordinal", "bandPosition": 0, "axis": null, "scale": {"type": "band", "padding": 0, "domain": [0, 1, 2], "range": [17.2, 57]}},
            "y": {"field": "account", "type": "nominal", "axis": null, "scale": {"type": "band", "padding": 0, "domain": ["5 PAJAMOS", "50 PARDAVIMO PAJAMOS", "500 PARDAVIMO PAJAMOS", "509 NUOLAIDOS, GRĄŽINIMAI (−)", "52 KITOS VEIKLOS PAJAMOS", "53 FINANSINĖS-INVESTICINĖS VEIKLOS PAJAMOS", "6 SĄNAUDOS", "60 PARD. PREKIŲ, SUTEIKTŲ PASLAUGŲ SAVIKAINA", "600 Pard. prekių savikaina", "61 VEIKLOS SĄNAUDOS", "610 PARDAVIMŲ SĄNAUDOS", "611 BENDROSIOS IR ADMINISTRACINĖS SĄNAUDOS", "63 FINANSINĖS-INVESTICINĖS VEIKLOS SĄNAUDOS"], "range": [58.65, 353.65]}}
          }
        },
        {
          "data": {"name": "ledger"},
          "transform": [{"filter": "datum.account !== 'Total' && datum.month !== 'TOTAL'"}],
          "mark": {"type": "text", "fontSize": 11, "color": "#484d5d", "align": "right"},
          "encoding": {
            "text": {"field": "value", "type": "quantitative", "format": ",.2f"},
            "x": {"field": "month", "type": "nominal", "bandPosition": 1, "axis": null, "scale": {"type": "band", "padding": 0, "domain": ["06", "07", "08", "09", "10", "11", "12", "TOTAL"], "range": [388.1, 1546.8]}},
            "y": {"field": "account", "type": "nominal", "sort": null, "axis": null, "scale": {"type": "band", "padding": 0, "range": [58.65, 353.65]}}
          }
        },
        {
          "data": {"name": "ledger"},
          "transform": [{"filter": "datum.account !== 'Total' && datum.month === 'TOTAL'"}],
          "mark": {"type": "text", "fontSize": 11, "fontWeight": 700, "color": "#1c2030", "align": "right"},
          "encoding": {
            "text": {"field": "value", "type": "quantitative", "format": ",.2f"},
            "x": {"field": "month", "type": "nominal", "bandPosition": 1, "axis": null, "scale": {"type": "band", "padding": 0, "domain": ["06", "07", "08", "09", "10", "11", "12", "TOTAL"], "range": [388.1, 1546.8]}},
            "y": {"field": "account", "type": "nominal", "sort": null, "axis": null, "scale": {"type": "band", "padding": 0, "range": [58.65, 353.65]}}
          }
        },
        {
          "data": {"values": [{"account": "Total"}]},
          "mark": {"type": "text", "fontSize": 11, "fontWeight": 700, "color": "#1c2030", "align": "left"},
          "encoding": {
            "text": {"field": "account"},
            "x": {"datum": "name", "type": "nominal", "bandPosition": 0, "axis": null, "scale": {"type": "band", "padding": 0, "range": [17.2, 388]}},
            "y": {"field": "account", "type": "nominal", "axis": null, "scale": {"type": "band", "padding": 0, "range": [356.3, 383]}}
          }
        },
        {
          "data": {"name": "ledger"},
          "transform": [{"filter": "datum.account === 'Total'"}],
          "mark": {"type": "text", "fontSize": 11, "fontWeight": 700, "color": "#1c2030", "align": "right"},
          "encoding": {
            "text": {"field": "value", "type": "quantitative", "format": ",.2f"},
            "x": {"field": "month", "type": "nominal", "bandPosition": 1, "axis": null, "scale": {"type": "band", "padding": 0, "domain": ["06", "07", "08", "09", "10", "11", "12", "TOTAL"], "range": [388.1, 1546.8]}},
            "y": {"field": "account", "type": "nominal", "axis": null, "scale": {"type": "band", "padding": 0, "domain": ["Total"], "range": [356.3, 383]}}
          }
        }
      ]
    }
  ]
}
